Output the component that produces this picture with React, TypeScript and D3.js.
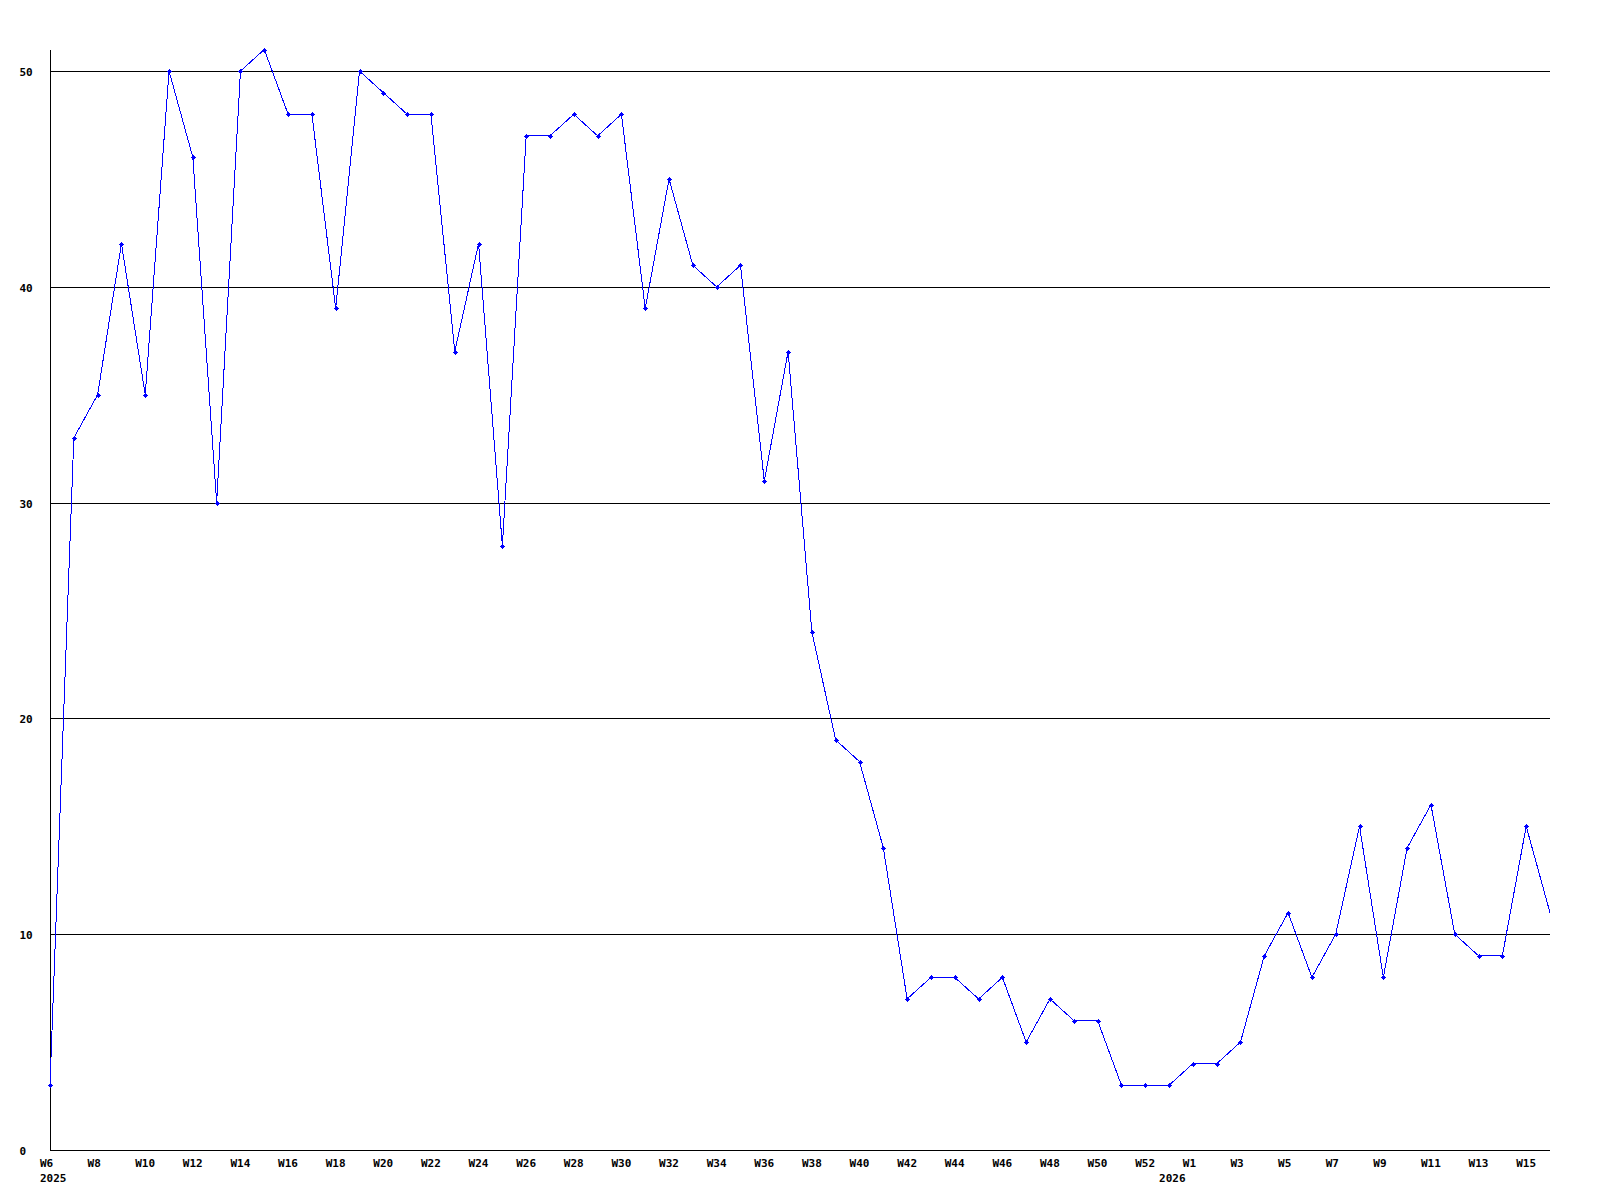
import React from "react";
import * as d3 from "d3";

const categories: string[] = [
  "W6","W7","W8","W9","W10","W11","W12","W13","W14","W15","W16","W17","W18","W19","W20",
  "W21","W22","W23","W24","W25","W26","W27","W28","W29","W30","W31","W32","W33","W34","W35",
  "W36","W37","W38","W39","W40","W41","W42","W43","W44","W45","W46","W47","W48","W49","W50",
  "W51","W52","W53",
  "W1","W2","W3","W4","W5","W6b","W7b","W8b","W9b","W10b","W11b","W12b","W13b","W14b","W15b","W16b",
];

const values: number[] = [
  3, 33, 35, 42, 35, 50, 46, 30, 50, 51, 48, 48, 39, 50, 49,
  48, 48, 37, 42, 28, 47, 47, 48, 47, 48, 39, 45, 41, 40, 41,
  31, 37, 24, 19, 18, 14, 7, 8, 8, 7, 8, 5, 7, 6, 6,
  3, 3, 3,
  4, 4, 5, 9, 11, 8, 10, 15, 8, 14, 16, 10, 9, 9, 15, 11,
];

// tick categories and their displayed text
const tickCats: string[] = [
  "W6","W8","W10","W12","W14","W16","W18","W20","W22","W24","W26","W28","W30","W32","W34",
  "W36","W38","W40","W42","W44","W46","W48","W50","W52",
  "W1","W3","W5","W7b","W9b","W11b","W13b","W15b",
];
const tickTexts: string[] = [
  "W6","W8","W10","W12","W14","W16","W18","W20","W22","W24","W26","W28","W30","W32","W34",
  "W36","W38","W40","W42","W44","W46","W48","W50","W52",
  "W1","W3","W5","W7","W9","W11","W13","W15",
];
const yearCats: string[] = ["W6", "W53"];
const yearTexts: string[] = ["2025", "2026"];
const yTicks: number[] = [0, 10, 20, 30, 40, 50];

const W = 1600;
const H = 1200;
const left = 50;
const right = 1550;
const bottom = 1150;
const top = 49.5;
const font = "'DejaVu Sans Mono', monospace";

export default function App() {
  const x = d3.scalePoint<string>().domain(categories).range([left, right]);
  const y = d3.scaleLinear().domain([0, 51]).range([bottom, top]);
  const data = categories.map((c, i) => ({ c, v: values[i] }));
  const line = d3
    .line<{ c: string; v: number }>()
    .x((d) => x(d.c) as number)
    .y((d) => y(d.v));

  return (
    <svg
      width={W}
      height={H}
      style={{ position: "absolute", left: 0, top: 0, background: "#fff" }}
    >
      <rect x={0} y={0} width={W} height={H} fill="#fff" />
      {yTicks
        .filter((t) => t > 0)
        .map((t) => (
          <line
            key={"g" + t}
            x1={left}
            x2={right}
            y1={Math.round(y(t)) + 0.5}
            y2={Math.round(y(t)) + 0.5}
            stroke="#000"
            strokeWidth={1}
            shapeRendering="crispEdges"
          />
        ))}
      <line x1={left + 0.5} x2={left + 0.5} y1={top} y2={bottom} stroke="#000" shapeRendering="crispEdges" />
      <line x1={left} x2={right} y1={bottom + 0.5} y2={bottom + 0.5} stroke="#000" shapeRendering="crispEdges" />
      {yTicks.map((t) => (
        <text
          key={"yl" + t}
          x={19.5}
          y={Math.round(y(t)) + 4.5}
          fontFamily={font}
          fontWeight="bold"
          fontSize={11}
          fill="#000"
        >
          {t}
        </text>
      ))}
      {tickCats.map((c, i) => (
        <text
          key={"xl" + c}
          x={(x(c) as number) - 10}
          y={1166.5}
          fontFamily={font}
          fontWeight="bold"
          fontSize={11}
          fill="#000"
        >
          {tickTexts[i]}
        </text>
      ))}
      {yearCats.map((c, i) => (
        <text
          key={"yr" + c}
          x={(x(c) as number) - 10}
          y={1181.5}
          fontFamily={font}
          fontWeight="bold"
          fontSize={11}
          fill="#000"
        >
          {yearTexts[i]}
        </text>
      ))}
      <path
        d={line(data) || ""}
        fill="none"
        stroke="#0000ff"
        strokeWidth={1}
        shapeRendering="crispEdges"
      />
      {data.slice(0, data.length - 1).map((d) => {
        const cx = Math.round(x(d.c) as number);
        const cy = Math.round(y(d.v));
        return (
          <g key={"m" + d.c} shapeRendering="crispEdges" fill="#0000ff">
            <rect x={cx - 2} y={cy} width={5} height={1} />
            <rect x={cx} y={cy - 2} width={1} height={5} />
            <rect x={cx - 1} y={cy - 1} width={3} height={3} />
          </g>
        );
      })}
    </svg>
  );
}
